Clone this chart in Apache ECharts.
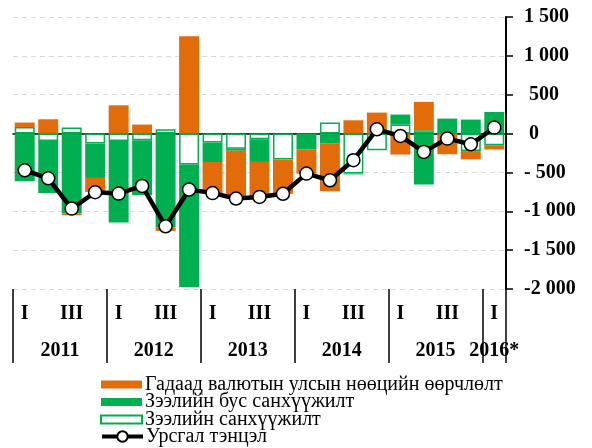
<!DOCTYPE html>
<html>
<head>
<meta charset="utf-8">
<script src="https://cdn.jsdelivr.net/npm/echarts@6/dist/echarts.min.js"></script>
<style>
html,body{margin:0;padding:0;background:#fff;}
#chart{width:592px;height:448px;}
</style>
</head>
<body>
<div id="chart"></div>
<script>
// ---- data ----
const categories = [
  '2011 I','2011 II','2011 III','2011 IV',
  '2012 I','2012 II','2012 III','2012 IV',
  '2013 I','2013 II','2013 III','2013 IV',
  '2014 I','2014 II','2014 III','2014 IV',
  '2015 I','2015 II','2015 III','2015 IV',
  '2016* I'
];
const quarterTickLabels = ['I', 'III'];
const yTicks = [1500, 1000, 500, 0, -500, -1000, -1500, -2000];

const seriesNames = [
  'Гадаад валютын улсын нөөцийн өөрчлөлт',
  'Зээлийн бус санхүүжилт',
  'Зээлийн санхүүжилт',
  'Урсгал тэнцэл'
];

const reserveChange    = [57, 184, -21, -180, 364, 116, -43, 1252, -400, -620, -450, -440, -310, -614, 171, 270, -270, 364, -266, -107, -55];
const nonDebtFinancing = [-613, -669, -1029, -442, -1050, -708, -1209, -1575, -250, -25, -292, 0, -206, -129, -10, 0, 129, -656, 193, 180, 278];
const debtFinancing    = [85, -95, 77, -129, -95, -86, 55, -399, -116, -195, -73, -335, 0, 141, -515, -215, 116, 43, 0, -225, -150];
const currentAccount   = [-472, -575, -965, -755, -772, -674, -1193, -720, -766, -836, -815, -775, -515, -601, -343, 55, -31, -236, -65, -138, 77];

// ---- derived helpers ----
const yearOf = c => c.split(' ')[0];
const quarterOf = c => c.split(' ')[1];
const years = [];
const yearStart = [];
categories.forEach((c, i) => {
  const y = yearOf(c);
  if (!years.length || years[years.length - 1] !== y) { years.push(y); yearStart.push(i); }
});
const yearEnd = yearStart.slice(1).concat([categories.length]);
const yearCenters = years.map((y, k) => (yearStart[k] + yearEnd[k]) / 2);
const yearBoundaries = yearStart.concat([categories.length]);
const toBar = arr => arr.map(v => (v === 0 ? '-' : v));

function yFmt(v) {
  const a = Math.abs(v);
  const s = a >= 1000 ? Math.floor(a / 1000) + ' ' + String(a % 1000).padStart(3, '0') : String(a);
  if (v < 0) return a >= 1000 ? '-' + s : '- ' + s;
  return a >= 1000 ? s : ' ' + s;
}

const ORANGE = '#E36C0A';
const GREEN = '#00B050';
const SERIF = '"Liberation Serif", "Times New Roman", serif';

const chart = echarts.init(document.getElementById('chart'), null, {renderer: 'canvas'});
chart.setOption({
  animation: false,
  backgroundColor: '#fff',
  grid: {left: 13, right: 86, top: 17, bottom: 159, containLabel: false},
  legend: [
    {
      orient: 'vertical', left: 95, top: 369.5, itemWidth: 41, itemHeight: 8, itemGap: -2.5,
      selectedMode: false, icon: 'rect',
      data: [seriesNames[0], seriesNames[1], seriesNames[2]],
      textStyle: {fontFamily: SERIF, fontSize: 20, color: '#000', lineHeight: 17.5, padding: [0, 0, 0, -2]}
    },
    {
      orient: 'vertical', left: 95, top: 421.5, itemWidth: 41, itemHeight: 13, itemGap: 0,
      selectedMode: false,
      lineStyle: {width: 4, color: '#000'},
      data: [seriesNames[3]],
      textStyle: {fontFamily: SERIF, fontSize: 20, color: '#000', lineHeight: 17.5, padding: [0, 0, 0, -2]}
    }
  ],
  xAxis: [
    {
      type: 'category', data: categories, position: 'bottom',
      axisLine: {show: true, onZero: true, lineStyle: {color: '#000', width: 1.5}},
      axisTick: {show: false}, axisLabel: {show: false}, splitLine: {show: false}
    },
    {
      type: 'category', data: categories, position: 'bottom', offset: 0,
      axisLine: {show: false, onZero: false}, axisTick: {show: false}, splitLine: {show: false},
      axisLabel: {
        show: true, interval: 0, margin: 24.5, verticalAlign: 'middle',
        fontFamily: SERIF, fontWeight: 'bold', fontSize: 20, color: '#000',
        formatter: c => (quarterTickLabels.indexOf(quarterOf(c)) >= 0 ? quarterOf(c) : '')
      }
    },
    {
      type: 'value', min: 0, max: categories.length, position: 'bottom', offset: 0,
      axisLine: {show: false, onZero: false}, splitLine: {show: false},
      axisTick: {show: true, inside: false, length: 74, customValues: yearBoundaries,
        lineStyle: {color: '#000', width: 1.5}},
      axisLabel: {
        show: true, customValues: yearCenters, margin: 62, verticalAlign: 'middle',
        fontFamily: SERIF, fontWeight: 'bold', fontSize: 20, color: '#000',
        formatter: v => { const k = yearCenters.indexOf(v); return k >= 0 ? years[k] : ''; }
      }
    }
  ],
  yAxis: {
    type: 'value', position: 'right', min: -2000, max: 1500, interval: 500,
    axisLine: {show: true, onZero: false, lineStyle: {color: '#000', width: 2}},
    axisTick: {show: true, inside: false, length: 7, lineStyle: {color: '#000', width: 1.5}},
    splitLine: {show: true, lineStyle: {color: '#d9d9d9', type: [5, 4], width: 1}},
    axisLabel: {
      margin: 18, align: 'left', fontFamily: SERIF, fontWeight: 'bold', fontSize: 20, color: '#000',
      formatter: v => yFmt(v)
    }
  },
  series: [
    {
      name: seriesNames[2], type: 'bar', stack: 'bop', xAxisIndex: 0, barCategoryGap: '15%',
      data: toBar(debtFinancing),
      itemStyle: {color: '#fff', borderColor: GREEN, borderWidth: 1.5}
    },
    {
      name: seriesNames[1], type: 'bar', stack: 'bop', xAxisIndex: 0, barCategoryGap: '15%',
      data: toBar(nonDebtFinancing),
      itemStyle: {color: GREEN}
    },
    {
      name: seriesNames[0], type: 'bar', stack: 'bop', xAxisIndex: 0, barCategoryGap: '15%',
      data: toBar(reserveChange),
      itemStyle: {color: ORANGE}
    },
    {
      name: seriesNames[3], type: 'line', xAxisIndex: 0, z: 5,
      data: currentAccount,
      symbol: 'circle', symbolSize: 13,
      lineStyle: {color: '#000', width: 4.5},
      itemStyle: {color: '#fff', borderColor: '#000', borderWidth: 1.5}
    }
  ]
});
</script>
</body>
</html>
